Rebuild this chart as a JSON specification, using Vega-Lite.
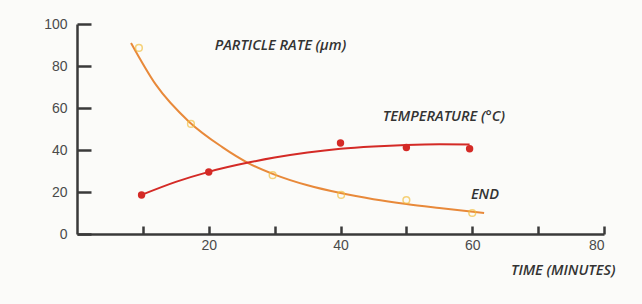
{
  "$schema": "https://vega.github.io/schema/vega-lite/v6.json",
  "width": 527,
  "height": 210,
  "autosize": {"type": "none"},
  "padding": {"left": 77, "top": 24, "right": 38, "bottom": 70},
  "background": "#fbfbf9",
  "config": {
    "view": {"stroke": null},
    "axis": {"grid": false, "domainColor": "#3a3a3a", "domainWidth": 2.5, "tickColor": "#3a3a3a", "tickWidth": 2.5, "labelColor": "#4a4a4a", "labelFont": "Liberation Sans", "labelFontSize": 14}
  },
  "datasets": {
    "tempPts": [
      {"time": 9.8, "value": 18.6},
      {"time": 20, "value": 29.5},
      {"time": 40, "value": 43.3},
      {"time": 50, "value": 41.2},
      {"time": 59.6, "value": 40.6}
    ],
    "partPts": [
      {"time": 9.4, "value": 88.6},
      {"time": 17.3, "value": 52.4},
      {"time": 29.7, "value": 28},
      {"time": 40.1, "value": 18.6},
      {"time": 50, "value": 16.2},
      {"time": 60, "value": 10}
    ],
    "tempFit": [
      {"time": 9.8, "value": 18.6},
      {"time": 15, "value": 24.8},
      {"time": 20, "value": 29.6},
      {"time": 26, "value": 34},
      {"time": 30, "value": 36.4},
      {"time": 35, "value": 38.8},
      {"time": 40, "value": 40.6},
      {"time": 45, "value": 41.7},
      {"time": 50, "value": 42.4},
      {"time": 55, "value": 42.7},
      {"time": 59.6, "value": 42.6}
    ],
    "partFit": [
      {"time": 8.2, "value": 91},
      {"time": 12, "value": 71},
      {"time": 17, "value": 53.5},
      {"time": 22, "value": 41.5},
      {"time": 26, "value": 33.8},
      {"time": 30, "value": 28.3},
      {"time": 35, "value": 23.2},
      {"time": 40, "value": 19.5},
      {"time": 45, "value": 16.6},
      {"time": 50, "value": 14.3},
      {"time": 55, "value": 12.4},
      {"time": 61.8, "value": 10}
    ],
    "labels": [
      {"time": 20.9, "value": 89.5, "text": "PARTICLE RATE (µm)"},
      {"time": 46.4, "value": 55.7, "text": "TEMPERATURE (°C)"},
      {"time": 59.8, "value": 18.6, "text": "END"}
    ]
  },
  "layer": [
    {
      "data": {"name": "partFit"},
      "mark": {"type": "line", "color": "#e8893a", "strokeWidth": 2, "interpolate": "monotone"},
      "encoding": {
        "x": {"field": "time", "type": "quantitative", "scale": {"domain": [0, 80], "nice": false},
          "axis": {"values": [10, 20, 30, 40, 50, 60, 70, 80], "labelExpr": "datum.value % 20 === 0 ? datum.label : ''", "tickSize": -8, "labelPadding": 12, "title": "TIME (MINUTES)", "titleFont": "Open Sans", "titleFontStyle": "italic", "titleFontWeight": 600, "titleFontSize": 14.5, "titleColor": "#333333", "titleX": 538, "titleY": 36, "titleAlign": "right", "titleAnchor": null, "titleBaseline": "middle"}},
        "y": {"field": "value", "type": "quantitative", "scale": {"domain": [0, 100], "nice": false},
          "axis": {"values": [0, 20, 40, 60, 80, 100], "tickSize": -14, "labelPadding": 24, "title": null}}
      }
    },
    {
      "data": {"name": "tempFit"},
      "mark": {"type": "line", "color": "#d42a26", "strokeWidth": 2, "interpolate": "monotone"},
      "encoding": {
        "x": {"field": "time", "type": "quantitative"},
        "y": {"field": "value", "type": "quantitative"}
      }
    },
    {
      "data": {"name": "partPts"},
      "mark": {"type": "point", "shape": "circle", "filled": false, "color": "#f3c042", "strokeWidth": 1.5, "size": 45},
      "encoding": {
        "x": {"field": "time", "type": "quantitative"},
        "y": {"field": "value", "type": "quantitative"}
      }
    },
    {
      "data": {"name": "tempPts"},
      "mark": {"type": "point", "shape": "circle", "filled": true, "color": "#d42a26", "opacity": 1, "size": 55},
      "encoding": {
        "x": {"field": "time", "type": "quantitative"},
        "y": {"field": "value", "type": "quantitative"}
      }
    },
    {
      "data": {"name": "labels"},
      "mark": {"type": "text", "align": "left", "baseline": "middle", "font": "Open Sans", "fontStyle": "italic", "fontWeight": 600, "fontSize": 14.5, "color": "#333333"},
      "encoding": {
        "x": {"field": "time", "type": "quantitative"},
        "y": {"field": "value", "type": "quantitative"},
        "text": {"field": "text"}
      }
    }
  ]
}
